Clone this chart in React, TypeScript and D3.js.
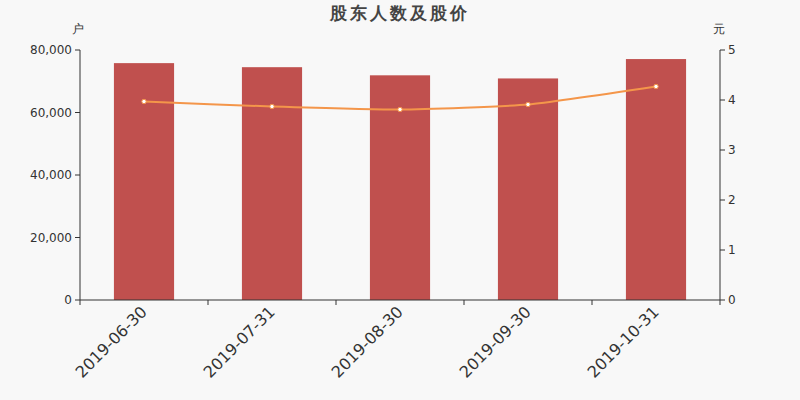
import React from "react";
import * as d3 from "d3";

const categories = ["2019-06-30", "2019-07-31", "2019-08-30", "2019-09-30", "2019-10-31"];
const holders = [75800, 74500, 71900, 70900, 77100];
const prices = [3.97, 3.87, 3.81, 3.91, 4.27];
const leftTicks = [0, 20000, 40000, 60000, 80000];
const rightTicks = [0, 1, 2, 3, 4, 5];

const W = 800, H = 400;
const M = { left: 80, right: 80, top: 50, bottom: 100 };
const FONT = "'DejaVu Sans', sans-serif";

export default function App() {
  const x = d3.scaleBand().domain(categories).range([M.left, W - M.right]).paddingInner(0.53).paddingOuter(0.265);
  const xOuter = d3.scaleBand().domain(categories).range([M.left, W - M.right]);
  const yL = d3.scaleLinear().domain([0, 80000]).range([H - M.bottom, M.top]);
  const yR = d3.scaleLinear().domain([0, 5]).range([H - M.bottom, M.top]);
  const cx = (c: string) => (xOuter(c) as number) + xOuter.bandwidth() / 2;
  const line = d3.line<number>().x((_, i) => cx(categories[i])).y((v) => yR(v)).curve(d3.curveCardinal.tension(0.5));
  const fmt = d3.format(",");
  const bottom = H - M.bottom;
  const boundaries = [...categories.map((c) => xOuter(c) as number), W - M.right];
  return (
    <svg width={W} height={H} style={{ position: "absolute", left: 0, top: 0, background: "#f8f8f8" }}>
      <rect x={0} y={0} width={W} height={H} fill="#f8f8f8" />
      <text x={400} y={19} textAnchor="middle" fontFamily={FONT} fontSize={17} fontWeight="bold" fill="#444" letterSpacing={3}>股东人数及股价</text>
      <text x={78} y={33} textAnchor="middle" fontFamily={FONT} fontSize={12} fill="#333">户</text>
      <text x={719} y={33} textAnchor="middle" fontFamily={FONT} fontSize={12} fill="#333">元</text>
      {categories.map((c, i) => (
        <rect key={c} x={x(c)} y={yL(holders[i])} width={x.bandwidth()} height={bottom - yL(holders[i])} fill="#c0504e" />
      ))}
      <path d={line(prices) || ""} fill="none" stroke="#f4964a" strokeWidth={2} />
      {prices.map((v, i) => (
        <circle key={i} cx={cx(categories[i])} cy={yR(v)} r={2.2} fill="#fff" stroke="#f4964a" strokeWidth={1} />
      ))}
      {/* left axis */}
      <line x1={M.left} x2={M.left} y1={M.top} y2={bottom} stroke="#333" />
      {leftTicks.map((t) => (
        <g key={t}>
          <line x1={M.left - 5} x2={M.left} y1={yL(t)} y2={yL(t)} stroke="#333" />
          <text x={M.left - 8} y={yL(t)} dy="0.35em" textAnchor="end" fontFamily={FONT} fontSize={12} fill="#333">{fmt(t)}</text>
        </g>
      ))}
      {/* right axis */}
      <line x1={W - M.right} x2={W - M.right} y1={M.top} y2={bottom} stroke="#333" />
      {rightTicks.map((t) => (
        <g key={t}>
          <line x1={W - M.right} x2={W - M.right + 5} y1={yR(t)} y2={yR(t)} stroke="#333" />
          <text x={W - M.right + 8} y={yR(t)} dy="0.35em" textAnchor="start" fontFamily={FONT} fontSize={12} fill="#333">{t}</text>
        </g>
      ))}
      {/* bottom axis */}
      <line x1={M.left} x2={W - M.right} y1={bottom} y2={bottom} stroke="#333" />
      {boundaries.map((b, i) => (
        <line key={i} x1={b} x2={b} y1={bottom} y2={bottom + 5} stroke="#333" />
      ))}
      {categories.map((c) => (
        <text key={c} transform={`translate(${cx(c)},${bottom + 9}) rotate(-45)`} textAnchor="end" dy="0.35em" fontFamily={FONT} fontSize={16} fill="#333">{c}</text>
      ))}
    </svg>
  );
}
